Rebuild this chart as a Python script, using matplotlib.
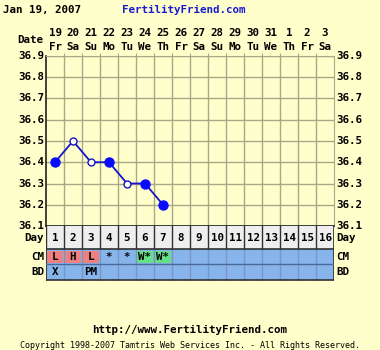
import numpy as np
import matplotlib.pyplot as plt
from matplotlib.patches import Rectangle

# chart data
dates = ['19', '20', '21', '22', '23', '24', '25', '26', '27', '28', '29', '30', '31', '1', '2', '3']
weekdays = ['Fr', 'Sa', 'Su', 'Mo', 'Tu', 'We', 'Th', 'Fr', 'Sa', 'Su', 'Mo', 'Tu', 'We', 'Th', 'Fr', 'Sa']
day_nums = list(range(1, 17))
temp_days = [1, 2, 3, 4, 5, 6, 7]
temps = [36.4, 36.5, 36.4, 36.4, 36.3, 36.3, 36.2]
temp_open = [False, True, True, False, True, False, False]
cm_labels = ['L', 'H', 'L', '*', '*', 'W*', 'W*']
cm_colors = ['#f08080', '#f08080', '#f08080', None, None, '#66e088', '#66e088']
bd_labels = ['X', '', 'PM']
yticks = [36.1, 36.2, 36.3, 36.4, 36.5, 36.6, 36.7, 36.8, 36.9]

W, H = 380, 350
BG = '#ffffcc'
BLUE = '#88b4ec'
FONT = 'DejaVu Sans Mono'

fig = plt.figure(figsize=(W / 100, H / 100), dpi=100, facecolor=BG)

def px(x, y):
    return x / W, 1 - y / H

def txt(x, y, s, **kw):
    kw.setdefault('family', FONT)
    kw.setdefault('fontsize', 7.8)
    kw.setdefault('weight', 'bold')
    fig.text(*px(x, y), s, **kw)

L, R, T, B = 46, 334, 56, 226

# ---- temperature chart
ax = fig.add_axes([L / W, 1 - B / H, (R - L) / W, (B - T) / H])
ax.set_facecolor('#ffffcc')
ax.set_xlim(0.5, 16.5)
ax.set_ylim(36.1, 36.9)
ax.set_xticks(np.arange(1.5, 16.5, 1))
ax.set_yticks(yticks)
ax.grid(True, color='#a8a888', lw=1)
ax.tick_params(axis='x', top=True, bottom=False, direction='out', length=2, color='#a8a888')
ax.tick_params(axis='y', length=0)
ax.tick_params(labelleft=False, labelbottom=False)
for s in ['top', 'right']:
    ax.spines[s].set_color('#a8a888')
for s in ['left', 'bottom']:
    ax.spines[s].set_color('#202020')
    ax.spines[s].set_linewidth(1.2)

ax.plot(temp_days, temps, color='#1414c8', lw=1.3, zorder=3)
for d, t, o in zip(temp_days, temps, temp_open):
    if o:
        ax.plot(d, t, 'o', ms=5, mfc='white', mec='#1414c8', mew=1, zorder=4)
    else:
        ax.plot(d, t, 'o', ms=6.5, mfc='#0a0aff', mec='#0a0aff', zorder=4)

for v in yticks:
    y = T + (36.9 - v) / 0.8 * (B - T)
    txt(44, y, f'{v:.1f}', ha='right', va='center')
    txt(336, y, f'{v:.1f}', ha='left', va='center')

# ---- header
txt(3, 10, 'Jan 19, 2007', ha='left', va='center')
txt(122, 10, 'FertilityFriend.com', ha='left', va='center', color='#1a1ad0')
txt(17, 40, 'Date', ha='left', va='center')
colw = (R - L) / 16
for i, (d, w) in enumerate(zip(dates, weekdays)):
    cx = L + colw * i + colw / 2
    txt(cx, 33, d, ha='center', va='center')
    txt(cx, 47, w, ha='center', va='center')

# ---- table of day / CM / BD rows
tab = fig.add_axes([L / W, 1 - 281 / H, (R - L) / W, (281 - B) / H])
tab.set_xlim(0.5, 16.5)
tab.set_ylim(281, B)
tab.axis('off')
tab.add_patch(Rectangle((0.5, B), 16, 249 - B, fc='#eeeeee', ec='none'))
tab.add_patch(Rectangle((0.5, 249), 16, 280 - 249, fc=BLUE, ec='none'))
for i in range(17):
    tab.plot([0.5 + i] * 2, [B, 249], color='#303030', lw=1)
    tab.plot([0.5 + i] * 2, [249, 280], color='#7896c0', lw=1)
tab.plot([0.5, 0.5], [B, 280], color='#303030', lw=1.2)
tab.plot([16.5, 16.5], [B, 280], color='#303030', lw=1.2)
tab.plot([0.5, 16.5], [249, 249], color='#303030', lw=1.2)
tab.plot([0.5, 16.5], [264, 264], color='#4a6a9a', lw=1)
tab.plot([0.5, 16.5], [280, 280], color='#303030', lw=1.2)
for d in day_nums:
    tab.text(d, 238, str(d), ha='center', va='center', family=FONT, fontsize=7.8, weight='bold')
for i, (lab, c) in enumerate(zip(cm_labels, cm_colors)):
    d = i + 1
    if c:
        tab.add_patch(Rectangle((d - 0.45, 250.5), 0.9, 12.5, fc=c, ec='none'))
    tab.text(d, 257, lab, ha='center', va='center', family=FONT, fontsize=7.8, weight='bold')
for i, lab in enumerate(bd_labels):
    tab.text(i + 1, 272, lab, ha='center', va='center', family=FONT, fontsize=7.8, weight='bold')

txt(44, 238, 'Day', ha='right', va='center')
txt(44, 257, 'CM', ha='right', va='center')
txt(44, 272, 'BD', ha='right', va='center')
txt(336, 238, 'Day', ha='left', va='center')
txt(336, 257, 'CM', ha='left', va='center')
txt(336, 272, 'BD', ha='left', va='center')

# ---- footer
txt(190, 330, 'http://www.FertilityFriend.com', ha='center', va='center')
txt(190, 345, 'Copyright 1998-2007 Tamtris Web Services Inc. - All Rights Reserved.',
    ha='center', va='center', fontsize=6, weight='normal')

fig.savefig('out.png', dpi=100, facecolor=BG)
